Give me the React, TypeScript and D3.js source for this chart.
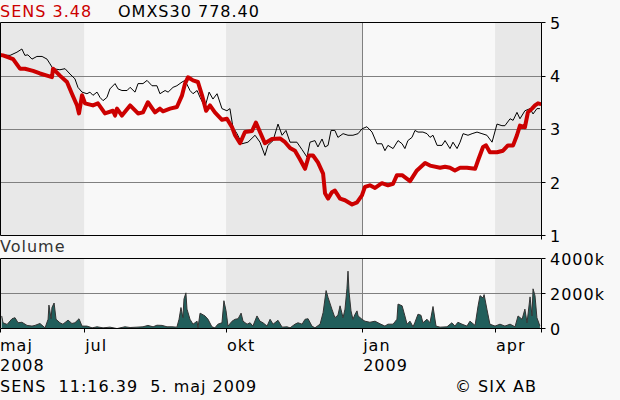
import React from 'react';
import * as d3 from 'd3';

// trading-day index (0 = start of May 2008) and closing values
const sensDay = [0,1.4,6.1,9.3,11.6,15.4,18.6,21.9,24.2,24.7,27.9,31.2,33.5,35.9,36.8,38.2,39.6,43.3,45.6,48.9,52.6,53.6,54.5,56.8,60.6,64.3,66.6,68.9,72.2,74.5,75.9,79.2,82.4,84.8,86.2,87.6,89.9,92.2,94.1,96.0,97.8,100.1,103.4,105.7,108.1,109.5,111.8,114.1,117.4,119.2,121.1,123.4,126.7,130.4,132.8,135.1,137.4,139.7,142.1,143.9,145.8,148.1,150.5,151.4,152.8,154.6,156.0,158.4,160.7,164.0,166.3,168.6,170.0,172.3,174.7,177.9,180.7,183.1,184.9,187.3,191.0,194.2,198.0,200.3,205.0,207.3,209.6,211.9,214.3,217.5,221.3,222.7,225.0,226.4,228.2,231.5,234.3,236.6,239.0,240.8,242.2,244.5,245.9,247.8,249.2,250.6,251.5];
const sensClose = [4.40,4.39,4.32,4.14,4.14,4.10,4.05,4.01,3.98,4.14,4.01,3.89,3.67,3.45,3.30,3.64,3.49,3.45,3.49,3.30,3.35,3.26,3.39,3.26,3.45,3.30,3.32,3.51,3.32,3.39,3.34,3.39,3.42,3.64,3.86,3.98,3.92,3.89,3.64,3.35,3.45,3.32,3.18,3.20,3.04,2.89,2.74,2.95,2.97,3.13,2.95,2.74,2.82,2.83,2.76,2.65,2.60,2.44,2.26,2.51,2.51,2.38,2.17,1.80,1.70,1.82,1.85,1.70,1.67,1.59,1.63,1.76,1.92,1.95,1.90,1.99,1.95,1.98,2.14,2.14,2.03,2.23,2.37,2.32,2.28,2.30,2.28,2.23,2.28,2.28,2.26,2.42,2.67,2.70,2.57,2.57,2.60,2.70,2.70,2.89,3.07,3.04,3.32,3.39,3.45,3.49,3.48];

const omxDay = [0,4.7,7.9,10.2,11.6,13.0,14.9,17.2,19.6,21.9,23.3,24.7,27.9,30.3,32.6,34.9,36.3,38.2,40.5,41.9,43.3,45.2,46.6,48.0,49.8,51.2,53.6,55.0,56.8,59.2,60.6,62.9,64.3,66.6,68.5,70.8,73.1,74.5,76.9,78.3,80.6,82.4,84.8,86.2,88.5,89.9,91.8,93.2,95.5,97.4,99.2,101.1,103.4,105.7,107.1,108.5,110.4,112.7,115.5,118.8,121.1,123.4,124.8,127.2,129.5,131.4,133.2,135.1,138.3,140.7,143.0,144.4,146.7,148.1,150.0,151.4,152.8,154.2,156.0,157.4,159.8,162.1,164.4,166.8,168.6,170.9,173.3,175.6,177.9,179.3,180.7,183.1,185.4,187.3,188.6,190.0,191.9,193.3,194.7,197.0,198.9,200.3,201.7,203.6,205.9,207.3,209.6,211.0,212.9,214.3,215.7,218.0,219.9,222.2,224.5,226.8,229.2,231.5,233.8,235.2,237.6,239.0,240.8,242.2,244.5,246.9,248.3,250.1,251.5];
const omxClose = [4.40,4.39,4.45,4.51,4.39,4.40,4.32,4.37,4.37,4.32,4.23,4.14,4.12,4.14,4.04,3.95,3.79,3.70,3.67,3.70,3.64,3.70,3.60,3.54,3.60,3.76,3.86,3.76,3.73,3.73,3.79,3.70,3.86,3.86,3.92,3.82,3.82,3.67,3.73,3.70,3.79,3.82,3.89,3.92,3.73,3.67,3.73,3.60,3.42,3.70,3.57,3.67,3.39,3.35,3.39,3.04,2.92,2.73,2.76,2.89,2.76,2.51,2.70,2.79,3.10,2.89,2.98,2.76,2.76,2.62,2.48,2.76,2.79,2.67,2.82,2.67,2.70,2.98,2.98,2.85,2.92,2.89,2.89,2.92,3.01,3.05,2.95,2.73,2.73,2.60,2.70,2.64,2.79,2.73,2.64,2.79,2.85,2.98,2.95,2.95,2.92,2.85,2.89,2.70,2.70,2.79,2.64,2.76,2.64,2.76,2.92,2.89,2.92,2.95,2.92,2.89,2.76,3.10,3.07,3.07,3.20,3.17,3.32,3.20,3.35,3.39,3.29,3.39,3.39];

const volDay = [0.8,1.4,3.3,5.6,7.0,8.4,10.2,12.6,14.9,16.3,18.6,21.0,22.4,22.8,23.8,24.2,25.2,26.1,27.9,29.3,31.7,33.5,34.9,36.8,38.2,40.5,42.9,45.2,48.0,51.2,54.5,58.2,60.6,63.8,66.6,68.9,71.3,73.1,75.5,77.8,80.1,82.4,83.4,84.3,85.2,85.7,86.6,87.1,88.5,89.9,91.8,92.2,93.2,95.5,96.9,98.7,100.1,101.5,103.4,104.3,105.3,106.2,108.1,109.5,110.9,112.3,113.2,115.1,116.5,117.8,119.7,121.1,122.5,124.4,125.8,127.2,129.5,131.4,133.7,135.1,137.4,138.8,140.7,142.1,143.5,145.3,146.7,149.1,150.5,151.9,152.8,154.6,156.0,157.4,158.4,159.8,160.7,161.6,162.1,162.6,163.5,164.4,165.4,166.3,166.8,168.6,170.0,172.3,174.7,177.0,179.3,180.7,183.1,184.9,185.4,187.3,188.6,189.6,191.0,192.4,193.3,194.7,196.1,197.0,198.9,200.3,201.7,203.1,205.0,208.2,210.5,211.9,213.3,215.2,217.5,218.9,221.3,222.7,223.6,225.0,225.5,226.8,228.2,230.6,232.9,235.2,237.6,239.9,241.3,243.2,244.5,245.5,246.9,247.8,248.3,249.2,250.1,251.5];
const volK = [740,350,255,580,640,350,380,200,160,200,310,60,550,1360,580,1220,1480,550,350,270,500,310,350,580,160,160,60,120,60,100,20,120,80,100,120,200,120,210,200,120,120,100,550,1220,640,1710,2060,1130,550,270,440,60,900,740,550,120,60,270,350,1610,1030,160,440,550,580,900,440,270,350,160,740,440,350,160,550,270,490,100,120,60,270,350,270,550,580,160,60,270,930,2190,1800,1130,640,780,1320,640,1130,2290,3300,2100,1030,550,840,1030,740,550,440,380,440,290,160,270,270,550,1420,1320,740,270,440,120,380,840,780,350,550,350,1280,160,100,120,350,160,380,270,160,440,200,1320,1900,1770,1960,1130,270,160,270,160,270,120,740,550,1130,350,1830,740,2290,1900,640,160];

const monthDays = [0, 39.2, 105.3, 168.7, 230.6];
const monthLabels = ['maj', 'jul', 'okt', 'jan', 'apr'];
const yearDays = [0, 168.7];
const yearLabels = ['2008', '2009'];
const bandStarts = [0, 105.3, 230.6];
const bandEnds = [39.2, 168.7, 252];
const priceTicks = [1, 2, 3, 4, 5];
const priceGrid = [2, 3, 4];
const volTicks = [0, 2000, 4000];
const volTickLabels = ['0', '2000k', '4000k'];
const titleSens = 'SENS 3.48';
const titleOmx = 'OMXS30 778.40';
const footerLeft = 'SENS  11:16.39  5. maj 2009';
const footerRight = '© SIX AB';

const W = 620, H = 400;
const BG = '#f8f8f8', BAND = '#e8e8e8', GRID = '#808080';
const FONT = { fontFamily: '"DejaVu Sans", Verdana, sans-serif', fontSize: 16, letterSpacing: 1 } as const;

export default function App() {
  const x = d3.scaleLinear().domain([0, 252]).range([0, 541]);
  const yP = d3.scaleLinear().domain([1, 5]).range([235.9, 22.9]);
  const yV = d3.scaleLinear().domain([0, 4000]).range([328.9, 258.9]);
  const c = (v: number) => Math.floor(v) + 0.5;

  const pTop = c(yP(5)), pBot = c(yP(1));
  const vTop = c(yV(4000)), vBot = c(yV(0));
  const xL = c(x(0)), xR = c(x(252));

  const sensLine = d3.line<number>().x((_, i) => x(sensDay[i])).y(d => yP(d))(sensClose) || '';
  const omxLine = d3.line<number>().x((_, i) => x(omxDay[i])).y(d => yP(d))(omxClose) || '';
  const volArea = d3.area<number>().x((_, i) => x(volDay[i])).y0(yV(0)).y1(d => yV(d))(volK) || '';
  const volLine = d3.line<number>().x((_, i) => x(volDay[i])).y(d => yV(d))(volK) || '';

  const bands = (top: number, bot: number) =>
    bandStarts.map((s, i) => (
      <rect key={i} x={x(s)} y={top} width={x(bandEnds[i]) - x(s)} height={bot - top} fill={BAND} />
    ));

  const janX = c(x(monthDays[3]));

  return (
    <svg width={W} height={H} style={{ position: 'absolute', left: 0, top: 0, display: 'block' }}>
      <rect x={0} y={0} width={W} height={H} fill={BG} />

      {/* price panel */}
      {bands(pTop, pBot)}
      {priceGrid.map(v => (
        <line key={v} x1={xL} x2={xR} y1={c(yP(v))} y2={c(yP(v))} stroke={GRID} strokeWidth={1} />
      ))}
      <line x1={janX} x2={janX} y1={pTop} y2={pBot} stroke={GRID} strokeWidth={1} />
      <path d={omxLine} fill="none" stroke="#000" strokeWidth={1} />
      <path d={sensLine} fill="none" stroke="#cc0000" strokeWidth={4} strokeLinejoin="round" strokeLinecap="round" />
      <line x1={xL} x2={xR} y1={pTop} y2={pTop} stroke="#000" />
      <line x1={xL} x2={xR} y1={pBot} y2={pBot} stroke="#000" />
      <line x1={xL} x2={xL} y1={pTop} y2={pBot} stroke="#000" />
      <line x1={xR} x2={xR} y1={pTop} y2={pBot + 4} stroke="#000" />
      {priceTicks.map(v => (
        <g key={v}>
          <line x1={xR} x2={xR + 4} y1={c(yP(v))} y2={c(yP(v))} stroke="#000" />
          <text x={550} y={yP(v) + 6} {...FONT} fill="#000">{v}</text>
        </g>
      ))}

      {/* titles */}
      <text x={0} y={17} {...FONT} fill="#cc0000">{titleSens}</text>
      <text x={118} y={17} {...FONT} fill="#000">{titleOmx}</text>

      {/* volume panel */}
      <text x={0} y={252} {...FONT} fill="#333">Volume</text>
      {bands(vTop, vBot)}
      <line x1={xL} x2={xR} y1={c(yV(2000))} y2={c(yV(2000))} stroke={GRID} />
      <line x1={janX} x2={janX} y1={vTop} y2={vBot} stroke={GRID} />
      <path d={volArea} fill="#215e5b" stroke="none" />
      <path d={volLine} fill="none" stroke="#333" strokeWidth={1} />
      <line x1={xL} x2={xR} y1={vTop} y2={vTop} stroke="#000" />
      <line x1={xL} x2={xR} y1={vBot} y2={vBot} stroke="#000" />
      <line x1={xL} x2={xL} y1={vTop} y2={vBot} stroke="#000" />
      <line x1={xR} x2={xR} y1={vTop} y2={vBot + 4} stroke="#000" />
      {volTicks.map((v, i) => (
        <g key={v}>
          <line x1={xR} x2={xR + 4} y1={c(yV(v))} y2={c(yV(v))} stroke="#000" />
          <text x={550} y={yV(v) + 6} {...FONT} fill="#000">{volTickLabels[i]}</text>
        </g>
      ))}
      {monthDays.map((d, i) => (
        <g key={i}>
          <line x1={c(x(d))} x2={c(x(d))} y1={vBot} y2={vBot + 4} stroke="#000" />
          <text x={x(d) + (i === 0 ? 0 : 1)} y={351} {...FONT} fill="#000">{monthLabels[i]}</text>
        </g>
      ))}
      {yearDays.map((d, i) => (
        <text key={i} x={x(d) + (i === 0 ? 0 : 1)} y={371} {...FONT} fill="#000">{yearLabels[i]}</text>
      ))}

      {/* footer */}
      <text x={0} y={392} {...FONT} fill="#000" style={{ whiteSpace: 'pre' }}>{footerLeft}</text>
      <text x={455} y={392} {...FONT} fill="#000">{footerRight}</text>
    </svg>
  );
}
